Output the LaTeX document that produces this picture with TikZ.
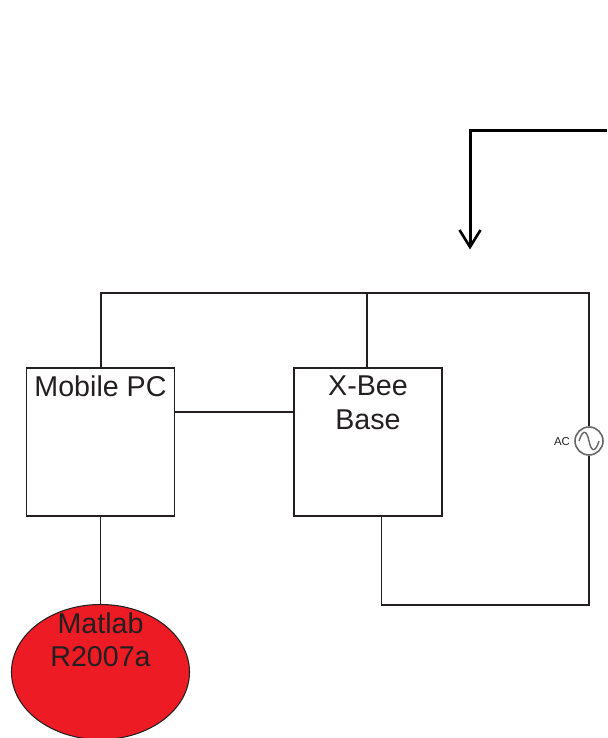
\documentclass[tikz,border=0pt]{standalone}
\usepackage{fontspec}
\setmainfont{Liberation Sans}
\usetikzlibrary{arrows.meta,
                shapes.geometric}
\definecolor{inkdark}{HTML}{231F20}
\definecolor{matlabred}{HTML}{ED1C24}
\tikzset{
  wire/.style={draw=inkdark,line width=0.6pt},
  unitbox/.style={wire,minimum width=2.96cm,minimum height=2.96cm,inner sep=0pt},
  unittext/.style={text=inkdark,font=\fontsize{16.3}{19.2}\selectfont,align=center,inner sep=0pt}
}

\begin{document}
\begin{tikzpicture}
\useasboundingbox (0,0) rectangle (12.14,14.76);

\coordinate (TL) at (2.02,8.90);
\coordinate (TM) at (7.34,8.90);
\coordinate (TR) at (11.78,8.90);
\coordinate (BL) at (7.63,2.66);
\coordinate (BR) at (11.78,2.66);
\coordinate (S) at (12.14,12.15);
\coordinate (C) at (9.40,12.15);
\coordinate (E) at (9.40,9.77);

\node[unitbox] (pc) at (2.01,5.92) {};
\node[unitbox] (xbee) at (7.36,5.92) {};
\node[wire,fill=matlabred,ellipse,minimum width=3.56cm,minimum height=2.7cm,inner sep=0pt] (matlab) at (2.01,1.32) {};
\node[draw=gray!80!black,line width=0.9pt,circle,minimum size=0.56cm,inner sep=0pt] (ac) at (11.78,5.94) {};

\node[unittext,anchor=north] (pctext) at (2.01,7.25) {Mobile PC};
\node[unittext,anchor=north] (xbeetext) at (7.36,7.25) {X-Bee\\Base};
\node[unittext,anchor=north] (matlabtext) at (2.01,2.52) {Matlab\\R2007a};
\node[text=inkdark,font=\fontsize{6.5}{7}\selectfont,inner sep=0pt] (actext) at (11.24,5.92) {AC};

\draw[wire] (pc.north -| TL)--(TL)--(TR)--(ac.north);
\draw[wire] (TM)--(xbee.north -| TM);
\draw[wire] (ac.south)--(BR)--(BL)--(xbee.south -| BL);
\draw[wire] (pc.east |- 0,6.52)--(xbee.west |- 0,6.52);
\draw[wire] (pc.south)--(matlab.north);

\draw[draw=gray!80!black,line width=0.8pt] (11.58,5.94) .. controls (11.66,6.20) and (11.74,6.14) .. (11.78,5.94)
  .. controls (11.82,5.74) and (11.90,5.68) .. (11.98,5.94);

\draw[line width=1.7pt,-{Straight Barb[length=0.34cm,width=0.42cm,line width=1.5pt]}] (S)--(C)--(E);

\end{tikzpicture}
\end{document}
